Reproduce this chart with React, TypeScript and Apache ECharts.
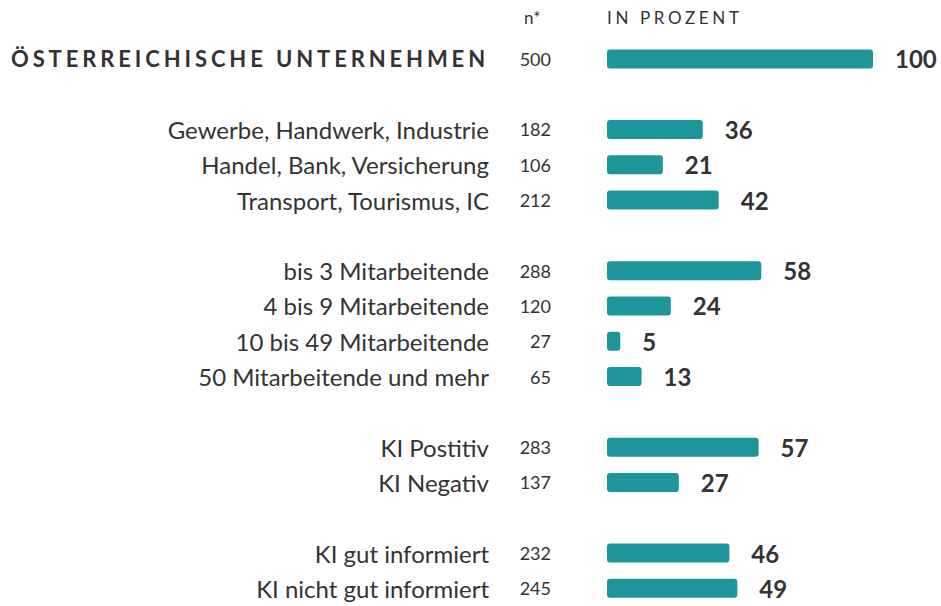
import React, { useEffect, useRef } from "react";
import * as echarts from "echarts";

const TITLE = "ÖSTERREICHISCHE UNTERNEHMEN";

const categories = [
  TITLE,
  "",
  "Gewerbe, Handwerk, Industrie",
  "Handel, Bank, Versicherung",
  "Transport, Tourismus, IC",
  " ",
  "bis 3 Mitarbeitende",
  "4 bis 9 Mitarbeitende",
  "10 bis 49 Mitarbeitende",
  "50 Mitarbeitende und mehr",
  "  ",
  "KI Postitiv",
  "KI Negativ",
  "   ",
  "KI gut informiert",
  "KI nicht gut informiert",
];

const nValues = ["500", "", "182", "106", "212", "", "288", "120", "27", "65", "", "283", "137", "", "232", "245"];

const percentValues = [100, null, 36, 21, 42, null, 58, 24, 5, 13, null, 57, 27, null, 46, 49];

const HEADER_N = "n*";
const HEADER_PCT = "IN PROZENT";

const FONT = "Lato, 'Open Sans', sans-serif";
const TEXT = "#333333";
const BAR = "#1c959b";

function spaceText(root: HTMLElement, content: string, targetWidth: number) {
  const texts = Array.from(root.querySelectorAll("text")) as SVGTextElement[];
  texts.forEach((t) => {
    if (t.textContent === content) {
      t.style.letterSpacing = "0px";
      const len = t.getComputedTextLength();
      const ls = (targetWidth - len) / Math.max(1, content.length - 1);
      if (ls > 0) t.style.letterSpacing = ls.toFixed(2) + "px";
    }
  });
}

export default function App() {
  const ref = useRef<HTMLDivElement>(null);
  useEffect(() => {
    if (!ref.current) return;
    const chart = echarts.init(ref.current, undefined, { renderer: "svg" });
    const slot = 35.5;
    const top = 59 - slot / 2;
    chart.setOption({
      animation: false,
      textStyle: { fontFamily: FONT },
      grid: { left: 607, width: 266, top, height: slot * categories.length, containLabel: false },
      xAxis: {
        type: "value",
        min: 0,
        max: 100,
        show: false,
      },
      yAxis: [
        {
          type: "category",
          inverse: true,
          data: categories,
          axisLine: { show: false },
          axisTick: { show: false },
          splitLine: { show: false },
          axisLabel: {
            margin: 118,
            fontSize: 24,
            color: TEXT,
            fontFamily: FONT,
            formatter: (v: string, i: number) => (i === 0 ? `{t|${v}}` : v),
            rich: {
              t: { fontSize: 22, fontWeight: "bold", color: TEXT, fontFamily: FONT },
            },
          },
        },
        {
          type: "category",
          inverse: true,
          position: "left",
          data: nValues.map((n, i) => n || " ".repeat(i + 1)),
          axisLine: { show: false },
          axisTick: { show: false },
          splitLine: { show: false },
          axisLabel: {
            margin: 56,
            fontSize: 18,
            color: TEXT,
            fontFamily: FONT,
          },
        },
      ],
      series: [
        {
          type: "bar",
          yAxisIndex: 0,
          data: percentValues,
          barWidth: 19,
          itemStyle: { color: BAR, borderRadius: 3 },
          label: {
            show: true,
            position: "right",
            distance: 22,
            fontSize: 24,
            fontWeight: "bold",
            color: TEXT,
            fontFamily: FONT,
          },
          silent: true,
        },
      ],
      graphic: [
        {
          type: "text",
          left: 524,
          top: 9,
          style: { text: HEADER_N, fontSize: 17, fill: TEXT, fontFamily: FONT },
        },
        {
          type: "text",
          left: 607,
          top: 9,
          style: { text: HEADER_PCT, fontSize: 17, fill: TEXT, fontFamily: FONT },
        },
      ],
    });
    const root = ref.current;
    spaceText(root, TITLE, 474);
    spaceText(root, HEADER_PCT, 132);
    return () => chart.dispose();
  }, []);
  return (
    <div
      ref={ref}
      style={{ position: "absolute", left: 0, top: 0, width: 941, height: 606, background: "#fff" }}
    />
  );
}
